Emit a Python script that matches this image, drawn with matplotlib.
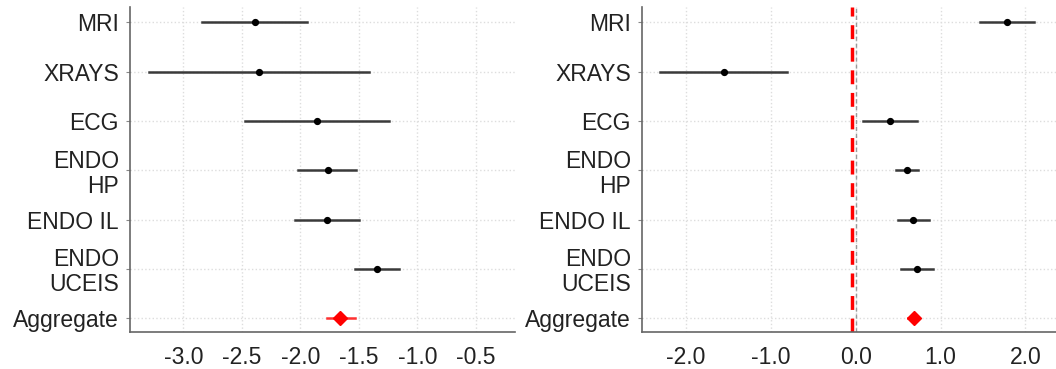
import numpy as np
import matplotlib
matplotlib.use('Agg')
import matplotlib.pyplot as plt

plt.rcParams['font.family'] = ['Liberation Sans', 'DejaVu Sans']

labels = ['MRI', 'XRAYS', 'ECG', 'ENDO\nHP', 'ENDO IL', 'ENDO\nUCEIS', 'Aggregate']

# left panel: estimate, lower, upper
left_est = [-2.39, -2.35, -1.855, -1.766, -1.774, -1.345, -1.658]
left_lo = [-2.843, -3.29, -2.473, -2.017, -2.045, -1.533, -1.775]
left_hi = [-1.945, -1.415, -1.24, -1.524, -1.50, -1.157, -1.53]
left_ticks = [-3.0, -2.5, -2.0, -1.5, -1.0, -0.5]

# right panel
right_est = [1.785, -1.553, 0.40, 0.60, 0.678, 0.725, 0.686]
right_lo = [1.459, -2.306, 0.086, 0.47, 0.498, 0.537, 0.62]
right_hi = [2.106, -0.808, 0.722, 0.733, 0.859, 0.91, 0.75]
right_ticks = [-2.0, -1.0, 0.0, 1.0, 2.0]
right_ref = -0.05


def forest(ax, est, lo, hi, ticks, xlim):
    y = np.arange(len(est))
    n = len(est) - 1
    for i in range(n):
        ax.plot([lo[i], hi[i]], [y[i], y[i]], color='#3a3a3a', lw=1.8, zorder=3)
        ax.plot(est[i], y[i], 'o', color='black', ms=4.2, zorder=4)
    ax.plot([lo[n], hi[n]], [y[n], y[n]], color='#ff3030', lw=1.8, zorder=3)
    ax.plot(est[n], y[n], 'D', color='red', ms=7, zorder=4)
    ax.set_yticks(y)
    ax.set_yticklabels(labels, fontsize=16.5, color='#222222', ha='right',
                       multialignment='right', linespacing=1.1)
    ax.set_ylim(6.28, -0.31)
    ax.set_xticks(ticks)
    ax.set_xticklabels(['%.1f' % t for t in ticks], fontsize=16.5, color='#222222')
    ax.set_xlim(*xlim)
    ax.grid(True, color='#dddddd', ls=':', lw=1)
    ax.set_axisbelow(True)
    for s in ['top', 'right']:
        ax.spines[s].set_visible(False)
    for s in ['left', 'bottom']:
        ax.spines[s].set_color('#666666')
        ax.spines[s].set_linewidth(1.2)
    ax.tick_params(axis='y', length=3, pad=5, color='#888888')
    ax.tick_params(axis='x', length=0, pad=10)


fig = plt.figure(figsize=(10.56, 3.69), dpi=100)
ax1 = fig.add_axes([130 / 1056, 1 - 332 / 369, 385 / 1056, 325 / 369])
ax2 = fig.add_axes([642 / 1056, 1 - 332 / 369, 414 / 1056, 325 / 369])

forest(ax1, left_est, left_lo, left_hi, left_ticks, (-3.456, -0.165))
forest(ax2, right_est, right_lo, right_hi, right_ticks, (-2.52, 2.36))
ax2.axvline(0, color='#999999', ls='--', lw=1, dashes=(3, 2), zorder=2)
ax2.axvline(right_ref, color='red', ls='--', lw=2.5, dashes=(4, 2.5), zorder=2)

fig.savefig('out.png', dpi=100)
